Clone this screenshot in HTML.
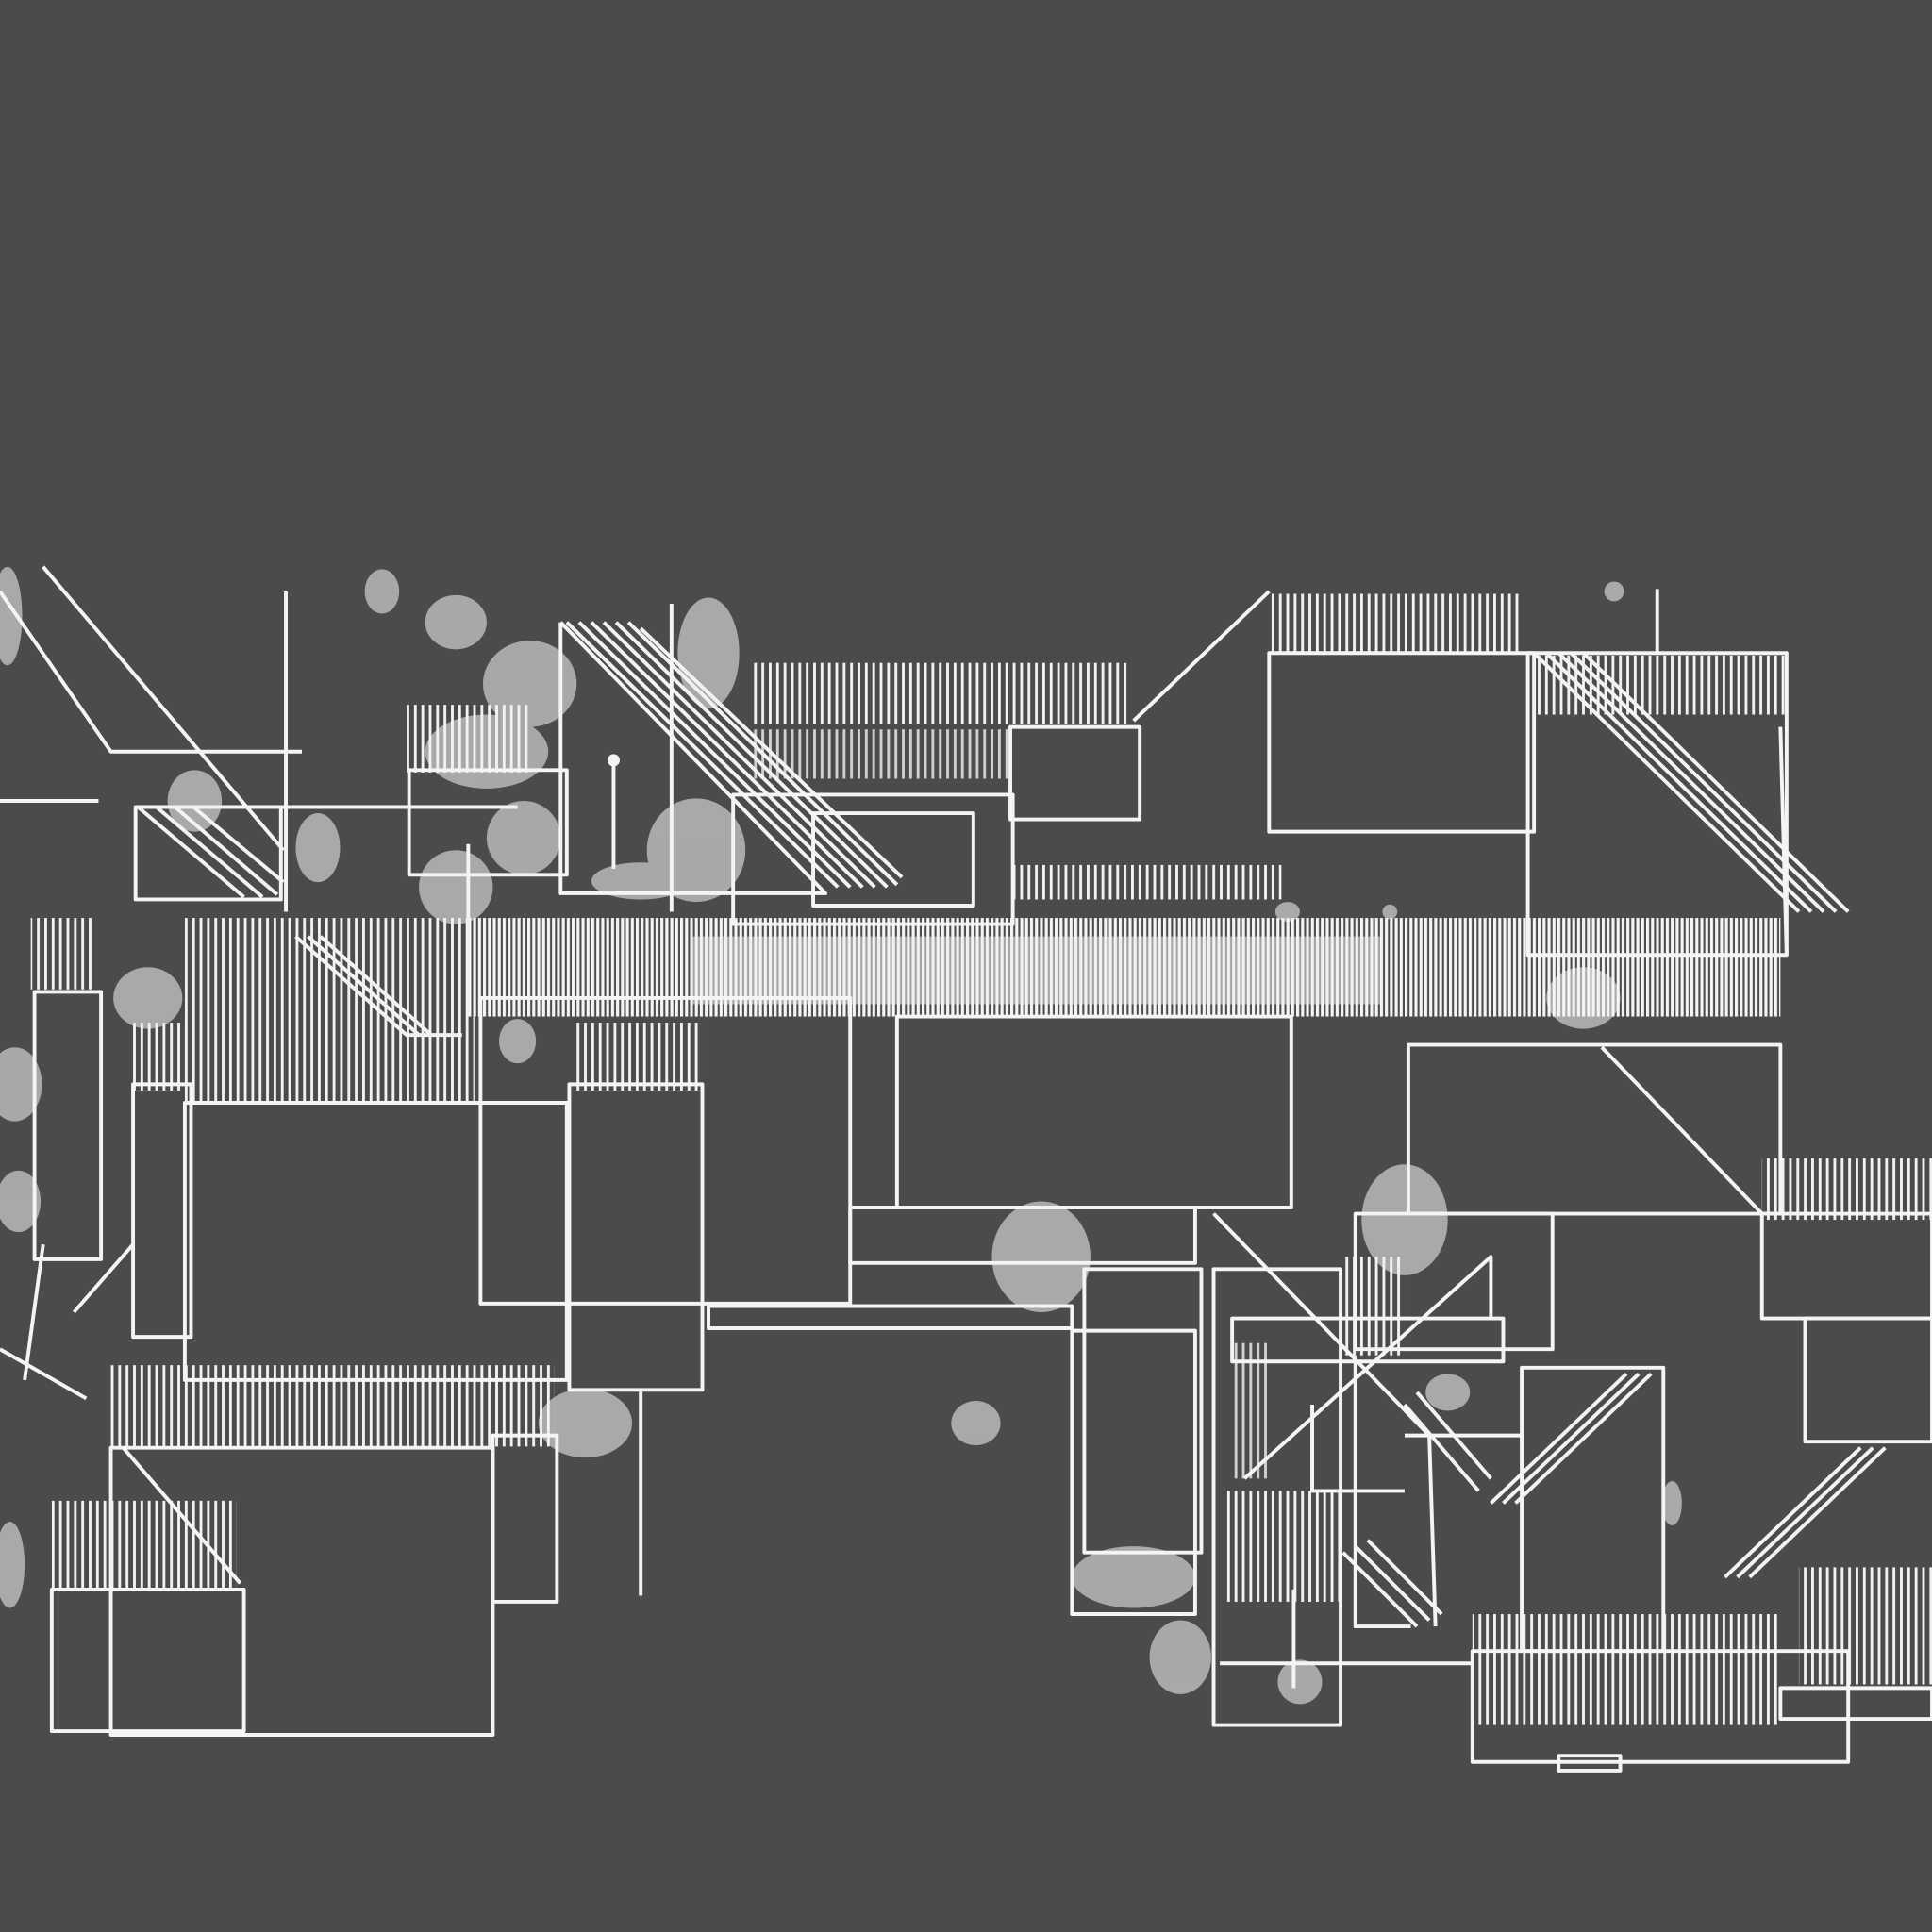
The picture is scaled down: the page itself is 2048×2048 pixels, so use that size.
<!DOCTYPE html>
<html><head><meta charset="utf-8"><style>
html,body{margin:0;padding:0;background:#4b4b4b;}
svg{display:block}
</style></head><body>
<svg width="2048" height="2048" viewBox="0 0 1568 1568" xmlns="http://www.w3.org/2000/svg">
<defs>
<pattern id="h" width="6" height="10" patternUnits="userSpaceOnUse">
<rect x="0" y="0" width="2.2" height="10" fill="#f2f2f2"/>
</pattern>
<pattern id="h2" width="4" height="10" patternUnits="userSpaceOnUse">
<rect x="0" y="0" width="2.4" height="10" fill="#f5f5f5"/>
</pattern>
</defs>
<rect width="1568" height="1568" fill="#4b4b4b"/>

<g fill="#c8c8c8" opacity="0.75">
<ellipse cx="6" cy="500" rx="12" ry="40"/>
<ellipse cx="310" cy="480" rx="14" ry="18"/>
<ellipse cx="370" cy="505" rx="25" ry="22"/>
<ellipse cx="430" cy="555" rx="38" ry="35"/>
<ellipse cx="575" cy="530" rx="25" ry="45"/>
<ellipse cx="395" cy="610" rx="50" ry="30"/>
<ellipse cx="425" cy="680" rx="30" ry="30"/>
<ellipse cx="370" cy="720" rx="30" ry="30"/>
<ellipse cx="565" cy="690" rx="40" ry="42"/>
<ellipse cx="520" cy="715" rx="40" ry="15"/>
<ellipse cx="158" cy="650" rx="22" ry="25"/>
<ellipse cx="258" cy="688" rx="18" ry="28"/>
<ellipse cx="120" cy="810" rx="28" ry="25"/>
<ellipse cx="420" cy="845" rx="15" ry="18"/>
<ellipse cx="12" cy="880" rx="22" ry="30"/>
<ellipse cx="15" cy="975" rx="18" ry="25"/>
<ellipse cx="845" cy="1020" rx="40" ry="45"/>
<ellipse cx="792" cy="1155" rx="20" ry="18"/>
<ellipse cx="475" cy="1155" rx="38" ry="28"/>
<ellipse cx="1140" cy="990" rx="35" ry="45"/>
<ellipse cx="1175" cy="1130" rx="18" ry="15"/>
<ellipse cx="920" cy="1280" rx="50" ry="25"/>
<ellipse cx="958" cy="1345" rx="25" ry="30"/>
<ellipse cx="1055" cy="1365" rx="18" ry="18"/>
<ellipse cx="1285" cy="810" rx="30" ry="25"/>
<ellipse cx="8" cy="1270" rx="12" ry="35"/>
<ellipse cx="1310" cy="480" rx="8" ry="8"/>
<ellipse cx="1357" cy="1220" rx="8" ry="18"/>
<ellipse cx="1128" cy="740" rx="6" ry="6"/>
<ellipse cx="1045" cy="740" rx="10" ry="8"/>
</g>

<g>
<rect x="1030" y="482" width="205" height="48" fill="url(#h)"/>
<rect x="1245" y="532" width="205" height="48" fill="url(#h)"/>
<rect x="610" y="538" width="308" height="50" fill="url(#h)"/>
<rect x="610" y="592" width="210" height="40" fill="url(#h)" opacity="0.8"/>
<rect x="380" y="745" width="1065" height="80" fill="url(#h2)"/>
<rect x="560" y="760" width="560" height="55" fill="#eeeeee" opacity="0.55"/>
<rect x="150" y="745" width="235" height="150" fill="url(#h)"/>
<rect x="465" y="830" width="105" height="55" fill="url(#h)"/>
<rect x="90" y="1108" width="360" height="66" fill="url(#h)"/>
<rect x="42" y="1218" width="150" height="72" fill="url(#h)"/>
<rect x="25" y="745" width="50" height="58" fill="url(#h)"/>
<rect x="820" y="702" width="220" height="28" fill="url(#h)"/>
<rect x="1430" y="940" width="138" height="50" fill="url(#h)"/>
<rect x="1195" y="1310" width="250" height="90" fill="url(#h)"/>
<rect x="1460" y="1272" width="108" height="95" fill="url(#h)"/>
<rect x="330" y="572" width="100" height="55" fill="url(#h)"/>
<rect x="995" y="1210" width="95" height="90" fill="url(#h)"/>
<rect x="1090" y="1020" width="50" height="80" fill="url(#h)"/>
<rect x="1000" y="1090" width="30" height="110" fill="url(#h)" opacity="0.8"/>
<rect x="105" y="830" width="45" height="55" fill="url(#h)"/>
</g>

<g stroke="#f2f2f2" stroke-width="3" fill="none">
<path d="M460 505 L680 720 M470 505 L690 720 M480 505 L700 720 M490 505 L710 720 M500 505 L720 720 M510 505 L728 718 M520 510 L732 712"/>
<path d="M1245 530 L1460 740 M1255 530 L1470 740 M1265 530 L1480 740 M1275 530 L1490 740 M1285 530 L1500 740"/>
<path d="M112 655 L198 728 M127 655 L213 728 M142 655 L225 726 M157 655 L230 716"/>
<path d="M240 760 L330 840 L375 840 M250 760 L340 840 M260 760 L350 840"/>
<path d="M1210 1220 L1320 1115 M1220 1220 L1330 1115 M1230 1220 L1340 1115 M1200 1210 L1140 1140 M1210 1200 L1150 1130"/>
<path d="M1400 1280 L1510 1175 M1410 1280 L1520 1175 M1420 1280 L1530 1175"/>
<path d="M1090 1260 L1150 1320 M1100 1255 L1160 1315 M1110 1250 L1170 1310"/>
</g>

<g stroke="#f4f4f4" stroke-width="3" fill="none" stroke-linejoin="round">
<rect x="1030" y="530" width="215" height="145"/>
<rect x="1240" y="530" width="210" height="245"/>
<rect x="728" y="825" width="320" height="155"/>
<rect x="1143" y="848" width="302" height="137"/>
<rect x="390" y="810" width="300" height="248"/>
<rect x="462" y="880" width="108" height="248"/>
<rect x="150" y="895" width="310" height="225"/>
<rect x="108" y="880" width="47" height="205"/>
<rect x="28" y="805" width="54" height="217"/>
<rect x="42" y="1290" width="156" height="115"/>
<rect x="90" y="1175" width="310" height="233"/>
<rect x="400" y="1165" width="52" height="135"/>
<path d="M455 505 L455 725 L670 725 L455 505"/>
<rect x="332" y="625" width="128" height="85"/>
<rect x="110" y="655" width="118" height="75"/>
<rect x="820" y="590" width="105" height="75"/>
<rect x="595" y="645" width="227" height="105"/>
<rect x="660" y="660" width="130" height="75"/>
<rect x="880" y="1030" width="95" height="230"/>
<rect x="985" y="1030" width="103" height="370"/>
<rect x="1235" y="1110" width="115" height="230"/>
<rect x="1195" y="1340" width="305" height="90"/>
<rect x="1430" y="985" width="138" height="85"/>
<rect x="1465" y="1070" width="103" height="100"/>
<rect x="575" y="1060" width="295" height="18"/>
<rect x="690" y="980" width="280" height="45"/>
<rect x="870" y="1080" width="100" height="230"/>
<rect x="1100" y="985" width="160" height="110"/>
<rect x="1000" y="1070" width="220" height="35"/>
<rect x="1265" y="1425" width="50" height="12"/>
<rect x="1445" y="1370" width="123" height="25"/>
<path d="M920 585 L1030 480"/>
<path d="M35 460 L230 690"/>
<path d="M0 480 L90 610 L245 610"/>
<path d="M232 480 L232 740"/>
<path d="M0 650 L80 650"/>
<path d="M228 655 L420 655"/>
<path d="M1300 850 L1430 985"/>
<path d="M545 490 L545 740"/>
<path d="M498 615 L498 705"/>
<path d="M1345 478 L1345 530"/>
<path d="M520 1128 L520 1295"/>
<path d="M60 1065 L108 1010"/>
<path d="M0 1095 L70 1135 M35 1010 L20 1120"/>
<path d="M100 1175 L195 1285"/>
<path d="M985 985 L1160 1165 L1165 1320"/>
<path d="M1010 1200 L1210 1020 L1210 1070"/>
<path d="M1065 1140 L1065 1210 L1140 1210"/>
<path d="M990 1350 L1195 1350"/>
<path d="M1100 1100 L1100 1320 L1145 1320"/>
<path d="M1050 1290 L1050 1370"/>
<path d="M1445 590 L1450 775"/>
<path d="M380 685 L380 745"/>
<path d="M1140 1165 L1235 1165"/>
</g>
<circle cx="498" cy="617" r="5" fill="#f4f4f4"/>
</svg>
</body></html>
